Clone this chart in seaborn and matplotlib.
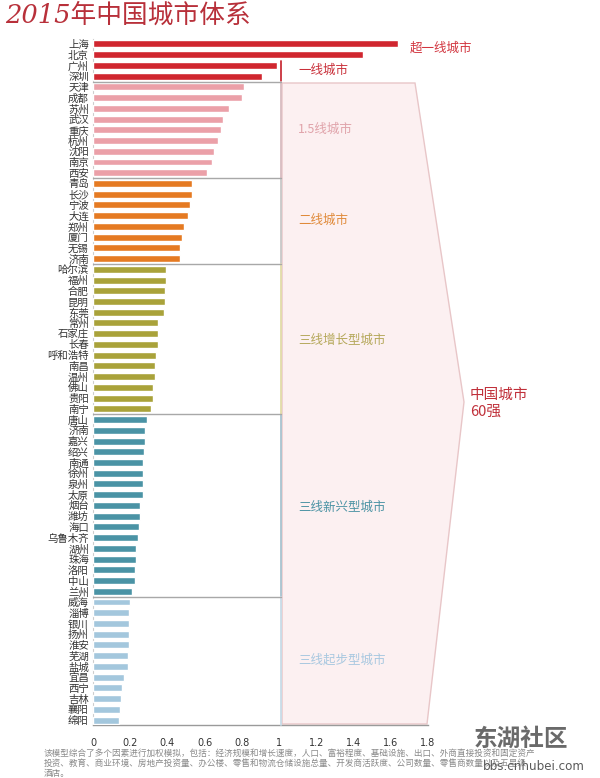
import matplotlib
matplotlib.use("Agg")
import matplotlib.pyplot as plt
from matplotlib.patches import Polygon
import seaborn as sns
import pandas as pd

cities_super = ["上海", "北京"]
values_super = [1.64, 1.45]
cities_t1 = ["广州", "深圳"]
values_t1 = [0.99, 0.91]
cities_t15 = ["天津", "成都", "苏州", "武汉", "重庆", "杭州", "沈阳", "南京", "西安"]
values_t15 = [0.81, 0.80, 0.73, 0.70, 0.69, 0.67, 0.65, 0.64, 0.61]
cities_t2 = ["青岛", "长沙", "宁波", "大连", "郑州", "厦门", "无锡", "济南"]
values_t2 = [0.53, 0.53, 0.52, 0.51, 0.49, 0.48, 0.47, 0.47]
cities_t3g = ["哈尔滨", "福州", "合肥", "昆明", "东莞", "常州", "石家庄", "长春",
              "呼和浩特", "南昌", "温州", "佛山", "贵阳", "南宁"]
values_t3g = [0.39, 0.39, 0.385, 0.385, 0.38, 0.35, 0.35, 0.35,
              0.34, 0.335, 0.335, 0.325, 0.32, 0.31]
cities_t3e = ["唐山", "济南", "嘉兴", "绍兴", "南通", "徐州", "泉州", "太原", "烟台",
              "潍坊", "海口", "乌鲁木齐", "湖州", "珠海", "洛阳", "中山", "兰州"]
values_t3e = [0.29, 0.28, 0.28, 0.275, 0.27, 0.27, 0.27, 0.27, 0.255,
              0.25, 0.245, 0.24, 0.23, 0.23, 0.225, 0.225, 0.21]
cities_t3s = ["威海", "淄博", "银川", "扬州", "淮安", "芜湖", "盐城", "宜昌",
              "西宁", "吉林", "襄阳", "绵阳"]
values_t3s = [0.20, 0.195, 0.195, 0.195, 0.195, 0.19, 0.19, 0.165,
              0.155, 0.15, 0.145, 0.14]

tier_names = ["超一线城市", "一线城市", "1.5线城市", "二线城市",
              "三线增长型城市", "三线新兴型城市", "三线起步型城市"]
bar_colors = ["#d0262f", "#d0262f", "#eba0a8", "#e57a22", "#a9a23a", "#4a93a5", "#a3c7dd"]
label_colors = ["#d2353f", "#c9303a", "#e0a3aa", "#e08a3a", "#b5a85a", "#4b93a4", "#a8c8e0"]
bracket_colors = [None, "#c9303a", "#d8bcc0", "#c8c8c8", "#e2dca8", "#a8c4d0", "#c8dce8"]
tick_values = [0, 0.2, 0.4, 0.6, 0.8, 1, 1.2, 1.4, 1.6, 1.8]
tick_labels = ["0", "0.2", "0.4", "0.6", "0.8", "1", "1.2", "1.4", "1.6", "1.8"]
footnote = ("该模型综合了多个因素进行加权模拟，包括：经济规模和增长速度，人口、富裕程度、基础设施、出口、外商直接投资和固定资产\n"
            "投资、教育、商业环境、房地产投资量、办公楼、零售和物流仓储设施总量、开发商活跃度、公司数量、零售商数量以及五星级\n"
            "酒店。")

groups = [(cities_super, values_super), (cities_t1, values_t1), (cities_t15, values_t15),
          (cities_t2, values_t2), (cities_t3g, values_t3g), (cities_t3e, values_t3e),
          (cities_t3s, values_t3s)]
rows = []
for t, (cs, vs) in enumerate(groups):
    for c, v in zip(cs, vs):
        rows.append({"city": c, "value": v, "tier": tier_names[t]})
df = pd.DataFrame(rows)
df["idx"] = range(len(df))
n = len(df)

sns.set_theme(style="white")
plt.rcParams["font.family"] = ["Noto Sans CJK SC", "DejaVu Sans"]

W, H = 600, 778
fig = plt.figure(figsize=(6, 7.78), dpi=100)
def fx(px): return px / W
def fy(py): return 1 - py / H

top_px, bot_px = 38.6, 725.4
ax = fig.add_axes([fx(93), fy(bot_px), fx(428) - fx(93), fy(top_px) - fy(bot_px)])
ax.patch.set_alpha(0)

# background arrow shape
poly = Polygon([(fx(282), fy(83)), (fx(415), fy(83)), (fx(464), fy(402)),
                (fx(427), fy(724)), (fx(282), fy(724))], closed=True,
               transform=fig.transFigure, clip_on=False, facecolor="#fcf0f1",
               edgecolor="#e8c6c8", linewidth=1.0, zorder=0)
ax.add_patch(poly)

sns.barplot(data=df, x="value", y="idx", hue="tier", hue_order=tier_names,
            palette=bar_colors, saturation=1, orient="h", order=list(range(n)),
            dodge=False, width=0.65, legend=False, ax=ax, zorder=3)

ax.set_xlim(0, 1.8)
ax.set_ylim(n - 0.5, -0.5)
ax.set_yticks(range(n))
ax.set_yticklabels(df["city"], fontsize=7.5, color="#333333")
ax.set_xticks(tick_values)
ax.set_xticklabels(tick_labels, fontsize=7, color="#333333", family="Liberation Sans Narrow")
ax.tick_params(axis="both", length=0, pad=3)
ax.tick_params(axis="x", pad=9)
ax.set_xlabel("")
ax.set_ylabel("")
for s in ["top", "right"]:
    ax.spines[s].set_visible(False)
ax.spines["bottom"].set_color("#9a9a9a")
ax.spines["left"].set_color("#cccccc")
ax.spines["bottom"].set_linewidth(1.0)
ax.spines["left"].set_linewidth(0.8)

# group brackets
start = 0
bounds = []
for t, (cs, vs) in enumerate(groups):
    bounds.append((start, start + len(cs)))
    start += len(cs)
for t, (a, b) in enumerate(bounds):
    if t == 0:
        continue
    ax.plot([1.01, 1.01], [a - 0.45, b - 0.55], color=bracket_colors[t], lw=1.3,
            clip_on=False, zorder=4)
    if t >= 2:
        ax.plot([0, 1.01], [a - 0.5, a - 0.5], color="#a8a8a8", lw=1.0,
                clip_on=False, zorder=4)

# group labels
label_pos = [(410, 48), (298, 70), (298, 129), (298, 220), (298, 340), (298, 507), (298, 660)]
for t, (px, py) in enumerate(label_pos):
    fig.text(fx(px), fy(py), tier_names[t], color=label_colors[t], fontsize=9,
             ha="left", va="center")
fig.text(fx(470), fy(403), "中国城市\n60强", color="#c0303a", fontsize=10.5,
         ha="left", va="center", linespacing=1.3)

# title
fig.text(fx(5), fy(15), "2015年中国城市体系", color="#b8303a", fontsize=18.5,
         style="italic", ha="left", va="center",
         family=["DejaVu Serif", "Noto Sans CJK SC"])

# footnote
fig.text(fx(44), fy(749), footnote, color="#8a8a8a", fontsize=6.2,
         ha="left", va="top", linespacing=1.1)

# watermark
fig.text(fx(474), fy(739), "东湖社区", color="#5a5a5a", fontsize=17,
         fontweight="bold", style="italic", ha="left", va="center", alpha=0.9)
fig.text(fx(483), fy(766), "bbs.cnhubei.com", color="#5a5a5a", fontsize=8.6,
         ha="left", va="center", family="DejaVu Sans")

fig.savefig("out.png", dpi=100)
